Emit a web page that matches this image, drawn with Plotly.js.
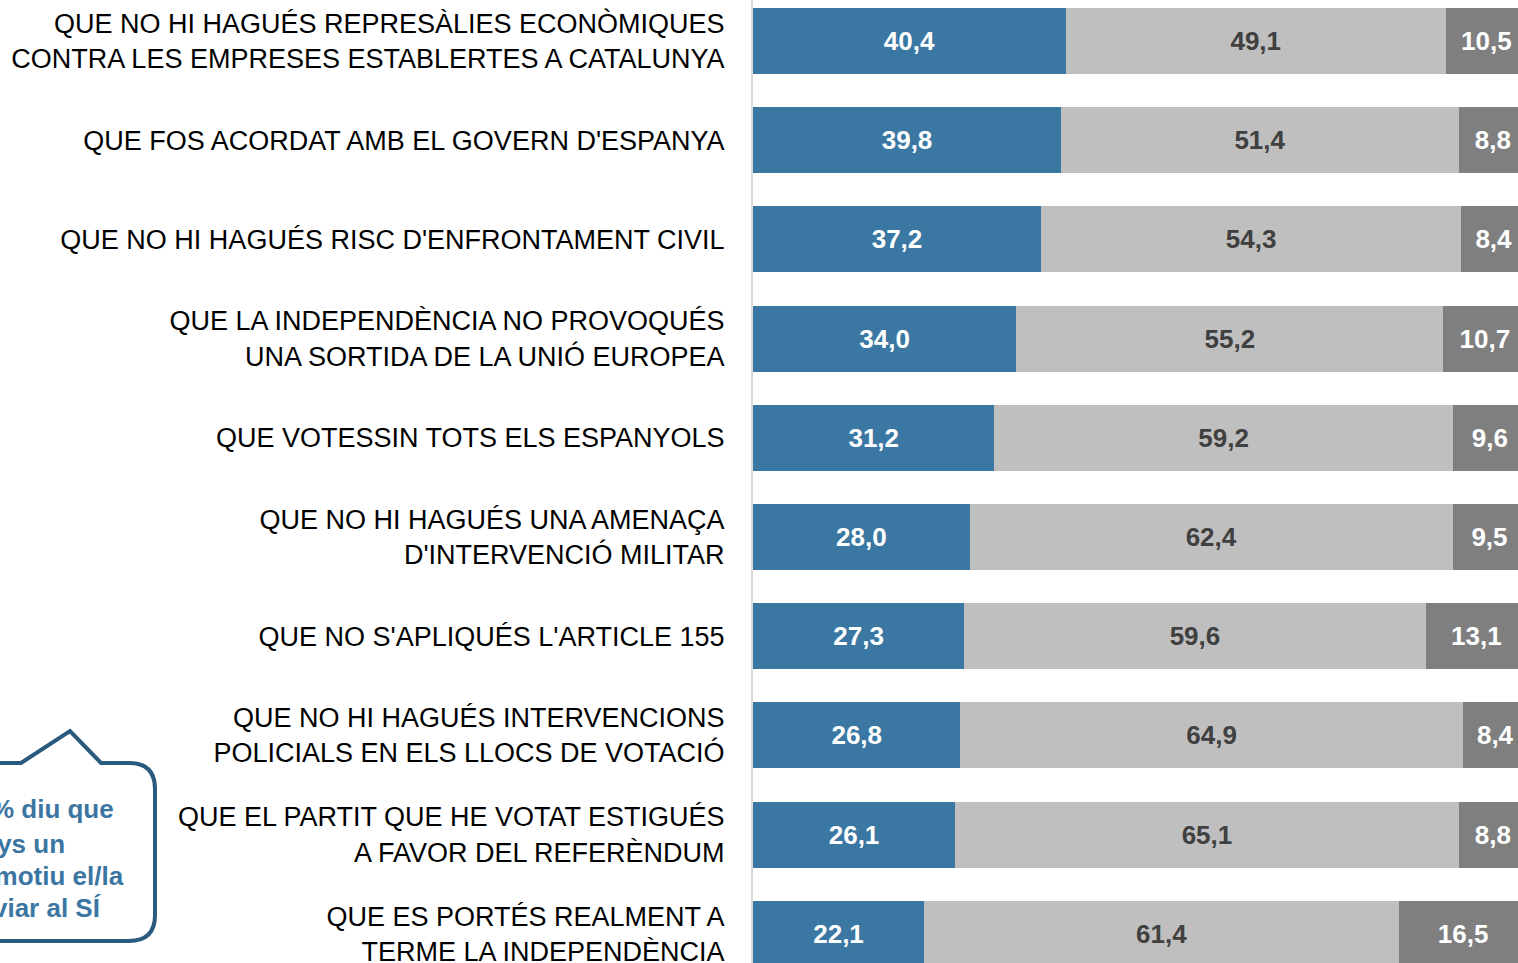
<!DOCTYPE html>
<html>
<head>
<meta charset="utf-8">
<script src="https://cdn.plot.ly/plotly-3.0.1.min.js"></script>
<style>
html,body{margin:0;padding:0;background:#fff;overflow:hidden;}
#chart{width:1518px;height:963px;}
</style>
</head>
<body>
<div id="chart"></div>
<script>
const categories = [
  "QUE NO HI HAGUÉS REPRESÀLIES ECONÒMIQUES<br>CONTRA LES EMPRESES ESTABLERTES A CATALUNYA",
  "QUE FOS ACORDAT AMB EL GOVERN D'ESPANYA",
  "QUE NO HI HAGUÉS RISC D'ENFRONTAMENT CIVIL",
  "QUE LA INDEPENDÈNCIA NO PROVOQUÉS<br>UNA SORTIDA DE LA UNIÓ EUROPEA",
  "QUE VOTESSIN TOTS ELS ESPANYOLS",
  "QUE NO HI HAGUÉS UNA AMENAÇA<br>D'INTERVENCIÓ MILITAR",
  "QUE NO S'APLIQUÉS L'ARTICLE 155",
  "QUE NO HI HAGUÉS INTERVENCIONS<br>POLICIALS EN ELS LLOCS DE VOTACIÓ",
  "QUE EL PARTIT QUE HE VOTAT ESTIGUÉS<br>A FAVOR DEL REFERÈNDUM",
  "QUE ES PORTÉS REALMENT A<br>TERME LA INDEPENDÈNCIA"
];
const seriesBlue  = [40.4, 39.8, 37.2, 34.0, 31.2, 28.0, 27.3, 26.8, 26.1, 22.1];
const seriesLight = [49.1, 51.4, 54.3, 55.2, 59.2, 62.4, 59.6, 64.9, 65.1, 61.4];
const seriesDark  = [10.5, 8.8, 8.4, 10.7, 9.6, 9.5, 13.1, 8.4, 8.8, 16.5];
const calloutLines = ["El 5,6% diu que", "almenys un", "d'aquests motiu el/la", "faria canviar al SÍ"];

const fmt = v => v.toFixed(1).replace('.', ',');
const ids = categories.map((c, i) => i);

function mk(vals, color, txtColor) {
  return {
    type: 'bar', orientation: 'h',
    y: ids, x: vals,
    text: vals.map(fmt),
    textposition: 'inside', insidetextanchor: 'middle',
    textfont: {family: 'Liberation Sans, Arial, sans-serif', size: 26, color: txtColor, weight: 'bold'},
    marker: {color: color, line: {width: 0}},
    hoverinfo: 'none',
    cliponaxis: true
  };
}

const W = 1518, H = 963, L = 753;
const PW = W - L;
const px = x => (x - L) / PW;
const py = y => 1 - y / H;

function P(x, y) { return px(x).toFixed(5) + ',' + py(y).toFixed(5); }
const r = 26;
const bubble = 'M' + P(-30, 763) + ' L' + P(21, 763) + ' L' + P(70, 731) + ' L' + P(101, 763) +
  ' L' + P(155 - r, 763) + ' Q' + P(155, 763) + ' ' + P(155, 763 + r) +
  ' L' + P(155, 941 - r) + ' Q' + P(155, 941) + ' ' + P(155 - r, 941) +
  ' L' + P(-30, 941);

const rights = [116, 67, 126, 103];
const ys = [809, 844, 876, 908];
const annotations = calloutLines.map((t, i) => ({
  xref: 'paper', yref: 'paper', x: px(rights[i]), y: py(ys[i]),
  xanchor: 'right', yanchor: 'middle', showarrow: false,
  text: '<b>' + t + '</b>',
  font: {family: 'Liberation Sans, Arial, sans-serif', size: 26, color: '#3b76a3'}
}));

const data = [
  mk(seriesBlue, '#3a77a3', '#ffffff'),
  mk(seriesLight, '#bfbfbf', '#404040'),
  mk(seriesDark, '#7f7f7f', '#ffffff')
];

const layout = {
  width: W, height: H,
  margin: {l: L, r: 0, t: 0, b: 0, pad: 0},
  paper_bgcolor: '#ffffff', plot_bgcolor: '#ffffff',
  barmode: 'stack', bargap: 0.335,
  showlegend: false,
  xaxis: {range: [0, PW / 7.74], showgrid: false, zeroline: false, showticklabels: false, showline: false, fixedrange: true},
  yaxis: {
    range: [9.295, -0.413], tickmode: 'array', tickvals: ids, ticktext: categories,
    showgrid: false, zeroline: false, showline: true, linecolor: '#d9d9d9', linewidth: 2,
    ticks: '', ticklabelstandoff: 21, ticklabeloverflow: 'allow',
    tickfont: {family: 'Liberation Sans, Arial, sans-serif', size: 27, color: '#000000'},
    fixedrange: true
  },
  shapes: [{type: 'path', xref: 'paper', yref: 'paper', path: bubble,
    line: {color: '#2a5a7d', width: 4}, fillcolor: 'rgba(255,255,255,0)', layer: 'above'}],
  annotations: annotations
};

Plotly.newPlot('chart', data, layout, {displayModeBar: false, staticPlot: true});
</script>
</body>
</html>
